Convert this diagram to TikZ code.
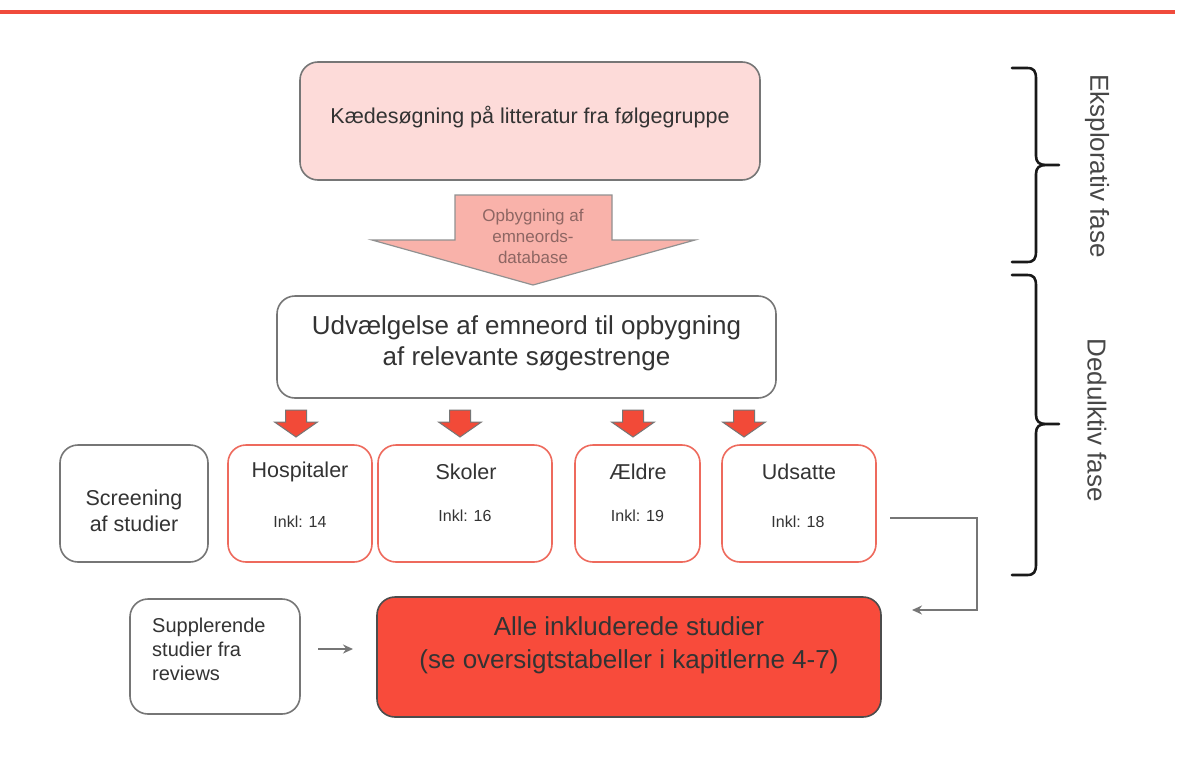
\documentclass[tikz,border=0pt]{standalone}
\usepackage{fontspec}
\setmainfont{Liberation Sans}
\usetikzlibrary{arrows.meta,calc}
\definecolor{topred}{HTML}{F04B3C}
\definecolor{pinkfill}{HTML}{FDDBD9}
\definecolor{arrowfill}{HTML}{F9B2AA}
\definecolor{arrowtext}{HTML}{8E6663}
\definecolor{redfill}{HTML}{F84B3B}
\definecolor{redline}{HTML}{EE6A5D}
\definecolor{smallred}{HTML}{F24A38}
\definecolor{boxline}{HTML}{767676}
\definecolor{txt}{HTML}{333333}
\newcommand{\fsz}[1]{\fontsize{#1}{#1}\selectfont}
\newcommand{\shiftup}[2]{\raisebox{#1}[\height][\depth]{#2}}
\begin{document}
\begin{tikzpicture}[x=1pt,y=-1pt,
  box/.style={draw=boxline,line width=1.6pt,rounded corners=18pt,fill=white,inner sep=0pt,text=txt,align=center},
  catbox/.style={draw=redline,line width=1.6pt,rounded corners=18pt,fill=white,inner sep=0pt},
  cattitle/.style={text=txt,font=\fsz{21.5}},
  catinkl/.style={text=txt,font=\fsz{16}},
  smallarrow/.style={fill=smallred,draw=boxline,line width=1pt,line join=miter},
  conn/.style={draw=boxline,line width=1.5pt,-{Stealth[length=10pt,width=9pt]}},
  bracestyle/.style={draw=black!90,line width=2.6pt,line cap=round,line join=round},
  phase/.style={text=txt!90,font=\fsz{26},rotate=-90}
]
\useasboundingbox (0,0) rectangle (1177,760);
\fill[white] (0,0) rectangle (1177,760);
% top rule
\draw[topred,line width=3.5pt] (0,12) -- (1175,12);

% top box
\node[box,fill=pinkfill,minimum width=460pt,minimum height=118pt] (kaede) at (530,121)
  {\shiftup{4pt}{\fsz{21.5}Kædesøgning på litteratur fra følgegruppe}};

% big arrow
\draw[fill=arrowfill,draw=boxline!80,line width=1.2pt,line join=miter]
  (455,195) -- (612,195) -- (612,240) -- (695,240) -- (533,285) -- (372,240) -- (455,240) -- cycle;
\node[text=arrowtext,align=center,font=\fontsize{17}{21}\selectfont] (opb) at (533,236)
  {Opbygning af\\emneords-\\database};

% second box
\node[box,minimum width=499pt,minimum height=102pt,font=\fontsize{26}{31}\selectfont] (udv) at (526.5,347)
  {\shiftup{3pt}{\begin{tabular}{@{}c@{}}Udvælgelse af emneord til opbygning\\af relevante søgestrenge\end{tabular}}};

% small arrows
\foreach \cx in {296,460,633,744}{
  \draw[smallarrow] (\cx-10.5,410) -- (\cx+10.5,410) -- (\cx+10.5,422) -- (\cx+21.5,422)
    -- (\cx,437) -- (\cx-21.5,422) -- (\cx-10.5,422) -- cycle;
}

% screening box
\node[box,minimum width=148pt,minimum height=117pt,font=\fontsize{21.5}{26}\selectfont] (scr) at (134,503.5)
  {\shiftup{-10pt}{\begin{tabular}{@{}c@{}}Screening\\af studier\end{tabular}}};

% category boxes
\node[catbox,minimum width=144pt,minimum height=117pt] (hosp) at (300,503.5) {};
\node[catbox,minimum width=174pt,minimum height=117pt] (skol) at (465,503.5) {};
\node[catbox,minimum width=125pt,minimum height=117pt] (aeld) at (637.5,503.5) {};
\node[catbox,minimum width=154pt,minimum height=117pt] (uds) at (799,503.5) {};

\node[cattitle] (hospT) at (300,472) {Hospitaler};
\node[catinkl] (hospI) at (300,521.5) {Inkl: 14};
\node[cattitle] (skolT) at (466,472) {Skoler};
\node[catinkl] (skolI) at (465,516) {Inkl: 16};
\node[cattitle] (aeldT) at (638,472) {Ældre};
\node[catinkl] (aeldI) at (637.5,516) {Inkl: 19};
\node[cattitle] (udsT) at (799,472) {Udsatte};
\node[catinkl] (udsI) at (798,521.5) {Inkl: 18};

% supplerende box
\node[box,minimum width=170pt,minimum height=115pt] (supp) at (215,656.5) {};
\node[text=txt,align=left,anchor=north west,inner sep=0pt,font=\fontsize{20}{24}\selectfont] (suppT) at (152,618)
  {Supplerende\\studier fra\\reviews};

% all included
\node[box,draw=black!70,fill=redfill,minimum width=504pt,minimum height=120pt,font=\fontsize{26}{33}\selectfont,text=black!80] (all) at (629,657)
  {\shiftup{11.5pt}{\begin{tabular}{@{}c@{}}Alle inkluderede studier\\(se oversigtstabeller i kapitlerne 4-7)\end{tabular}}};

% connectors
\coordinate (cs) at (890,518);
\coordinate (cc) at (977,518);
\coordinate (ce) at (912,610);
\draw[conn] (cs) -- (cc) |- (ce);
\coordinate (as) at (318,649);
\coordinate (ae) at (353,649);
\draw[conn] (as) -- (ae);

% braces
\draw[bracestyle] (1012,68) -- (1027,68) .. controls (1034,68) and (1036,71) .. (1036,79)
  -- (1036,156) .. controls (1036,162) and (1039,165) .. (1046,165) -- (1059,165)
  (1046,165) .. controls (1039,165) and (1036,168) .. (1036,174)
  -- (1036,251) .. controls (1036,259) and (1034,262) .. (1027,262) -- (1012,262);
\draw[bracestyle] (1012,275) -- (1027,275) .. controls (1034,275) and (1036,278) .. (1036,286)
  -- (1036,415) .. controls (1036,421) and (1039,424) .. (1046,424) -- (1059,424)
  (1046,424) .. controls (1039,424) and (1036,427) .. (1036,433)
  -- (1036,564) .. controls (1036,572) and (1034,575) .. (1027,575) -- (1012,575);
\node[phase] (eks) at (1097,166) {Eksplorativ fase};
\node[phase] (ded) at (1097,420) {Dedulktiv fase};
\end{tikzpicture}
\end{document}
